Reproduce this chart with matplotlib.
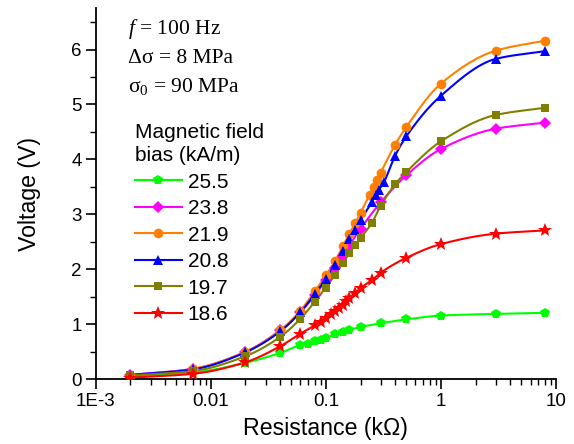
import matplotlib
matplotlib.use("Agg")
import numpy as np
import matplotlib.pyplot as plt
from matplotlib.ticker import FixedLocator, FixedFormatter, LogLocator, MultipleLocator, NullFormatter

plt.rcParams["font.family"] = "Liberation Sans"
plt.rcParams["mathtext.fontset"] = "custom"
plt.rcParams["mathtext.rm"] = "Liberation Serif"
plt.rcParams["mathtext.it"] = "Liberation Serif:italic"

# --- data (resistance in kOhm, voltage in V) ---
labels = ["25.5", "23.8", "21.9", "20.8", "19.7", "18.6"]

r_255 = [0.002, 0.007, 0.02, 0.04, 0.06, 0.07, 0.08, 0.09, 0.1, 0.12, 0.14, 0.16, 0.2, 0.3, 0.5, 1, 3, 8]
v_255 = [0.04, 0.12, 0.30, 0.48, 0.62, 0.65, 0.69, 0.72, 0.75, 0.82, 0.86, 0.90, 0.95, 1.02, 1.09, 1.16, 1.19, 1.21]

r_238 = [0.002, 0.007, 0.02, 0.04, 0.06, 0.08, 0.1, 0.12, 0.14, 0.16, 0.2, 0.3, 0.5, 1, 3, 8]
v_238 = [0.08, 0.19, 0.50, 0.89, 1.22, 1.53, 1.80, 2.03, 2.25, 2.44, 2.74, 3.22, 3.71, 4.19, 4.56, 4.67]

r_219 = [0.002, 0.007, 0.02, 0.04, 0.06, 0.08, 0.1, 0.12, 0.14, 0.16, 0.18, 0.2, 0.24, 0.26, 0.28, 0.3, 0.4, 0.5, 1, 3, 8]
v_219 = [0.06, 0.19, 0.50, 0.89, 1.25, 1.60, 1.89, 2.15, 2.42, 2.65, 2.84, 3.03, 3.36, 3.50, 3.63, 3.76, 4.27, 4.59, 5.38, 5.98, 6.16]

r_208 = [0.002, 0.007, 0.02, 0.04, 0.06, 0.08, 0.1, 0.12, 0.14, 0.16, 0.18, 0.2, 0.25, 0.27, 0.29, 0.32, 0.4, 0.5, 1, 3, 8]
v_208 = [0.08, 0.18, 0.49, 0.87, 1.22, 1.55, 1.83, 2.08, 2.33, 2.55, 2.72, 2.89, 3.22, 3.35, 3.45, 3.59, 4.07, 4.42, 5.16, 5.83, 5.97]

r_197 = [0.002, 0.007, 0.02, 0.04, 0.06, 0.08, 0.1, 0.12, 0.14, 0.16, 0.18, 0.2, 0.25, 0.3, 0.4, 0.5, 1, 3, 8]
v_197 = [0.07, 0.15, 0.42, 0.77, 1.10, 1.41, 1.67, 1.90, 2.12, 2.30, 2.44, 2.57, 2.84, 3.16, 3.55, 3.77, 4.33, 4.81, 4.94]

r_186 = [0.002, 0.007, 0.02, 0.04, 0.06, 0.08, 0.09, 0.1, 0.11, 0.12, 0.13, 0.14, 0.15, 0.16, 0.18, 0.2, 0.25, 0.3, 0.5, 1, 3, 8]
v_186 = [0.03, 0.10, 0.31, 0.60, 0.83, 0.98, 1.05, 1.12, 1.18, 1.24, 1.30, 1.36, 1.42, 1.48, 1.57, 1.66, 1.80, 1.94, 2.21, 2.46, 2.65, 2.71]

series = [(r_255, v_255), (r_238, v_238), (r_219, v_219),
          (r_208, v_208), (r_197, v_197), (r_186, v_186)]
colors = ["#00ff00", "#ff00ff", "#ff8000", "#0000ff", "#808000", "#ff0000"]
markers = ["p", "D", "o", "^", "s", "*"]
msizes = [7.5, 6, 7, 7, 6, 10.5]


def smooth(x, y, n=400):
    # monotone cubic (Fritsch-Carlson) through the points, in log10(x)
    lx = np.log10(np.asarray(x, float))
    y = np.asarray(y, float)
    h = np.diff(lx)
    d = np.diff(y) / h
    m = np.zeros_like(y)
    m[0], m[-1] = d[0], d[-1]
    for i in range(1, len(y) - 1):
        if d[i - 1] * d[i] > 0:
            w1 = 2 * h[i] + h[i - 1]
            w2 = h[i] + 2 * h[i - 1]
            m[i] = (w1 + w2) / (w1 / d[i - 1] + w2 / d[i])
    xs = np.linspace(lx[0], lx[-1], n)
    k = np.clip(np.searchsorted(lx, xs) - 1, 0, len(lx) - 2)
    t = (xs - lx[k]) / h[k]
    h00 = 2 * t**3 - 3 * t**2 + 1
    h10 = t**3 - 2 * t**2 + t
    h01 = -2 * t**3 + 3 * t**2
    h11 = t**3 - t**2
    ys = h00 * y[k] + h10 * h[k] * m[k] + h01 * y[k + 1] + h11 * h[k] * m[k + 1]
    return 10 ** xs, ys


fig = plt.figure(figsize=(5.74, 4.44), dpi=100)
ax = fig.add_axes([0.1667, 0.1457, 0.8020, 0.8356])

for (r, v), c, mk, ms, lab in zip(series, colors, markers, msizes, labels):
    xs, ys = smooth(r, v)
    ax.plot(xs, ys, color=c, linewidth=1.5, zorder=2)
    ax.plot(r, v, linestyle="none", marker=mk, color=c, markersize=ms,
            markeredgewidth=0, zorder=3)
    ax.plot([], [], color=c, linewidth=1.5, marker=mk, markersize=ms,
            markeredgewidth=0, label=lab)

ax.set_xscale("log")
ax.set_xlim(1e-3, 10)
ax.set_ylim(0, 6.75)

ax.xaxis.set_major_locator(FixedLocator([1e-3, 1e-2, 1e-1, 1, 10]))
ax.xaxis.set_major_formatter(FixedFormatter(["1E-3", "0.01", "0.1", "1", "10"]))
ax.xaxis.set_minor_locator(LogLocator(base=10, subs=np.arange(2, 10), numticks=20))
ax.xaxis.set_minor_formatter(NullFormatter())
ax.yaxis.set_major_locator(MultipleLocator(1))
ax.yaxis.set_minor_locator(MultipleLocator(0.5))

for side in ["top", "right"]:
    ax.spines[side].set_visible(False)
for side in ["left", "bottom"]:
    ax.spines[side].set_linewidth(1.3)
ax.tick_params(which="major", direction="out", length=7, width=1.2, labelsize=13.5, pad=3)
ax.tick_params(which="minor", direction="out", length=4, width=1.0)

ax.set_xlabel("Resistance (k\u03a9)", fontsize=16.7, labelpad=5)
ax.set_ylabel("Voltage (V)", fontsize=16.7, labelpad=22)

serif = dict(transform=ax.transAxes, fontsize=15.5, family="Liberation Serif",
             ha="left", va="center")
ax.text(0.071, 0.943, "$f$ = 100 Hz", **serif)
ax.text(0.071, 0.865, "\u0394\u03c3 = 8 MPa", **serif)
ax.text(0.071, 0.790, "\u03c3$_0$ = 90 MPa", **serif)

leg = ax.legend(loc="upper left", bbox_to_anchor=(0.085, 0.69), frameon=False,
                title="Magnetic field\nbias (kA/m)", title_fontsize=15, fontsize=15,
                alignment="left", handlelength=2.25, handletextpad=0.28,
                labelspacing=0.36, borderpad=0, borderaxespad=0)
leg.get_title().set_linespacing(1.25)

fig.savefig("out.png", dpi=100)
